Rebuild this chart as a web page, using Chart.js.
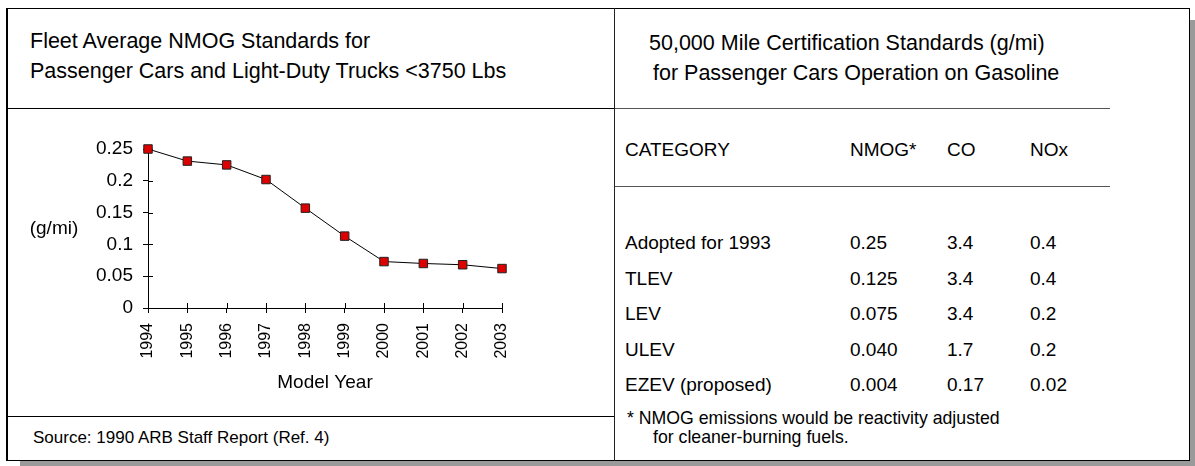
<!DOCTYPE html>
<html>
<head>
<meta charset="utf-8">
<title>Fleet Average NMOG Standards</title>
<script src="https://cdn.jsdelivr.net/npm/chart.js"></script>
<style>
    body { margin: 0; background: #fff; font-family: "Liberation Sans", Arial, sans-serif; color: #000; }
    #page { position: relative; width: 1195px; height: 466px; overflow: hidden; }
    .abs { position: absolute; white-space: pre; line-height: 1; }
    .shadow { position: absolute; background: #9a9a9a; }
    .line { position: absolute; }
</style>
</head>
<body>
<div id="page">
    <!-- shadow and frame -->
    <div class="shadow" style="left:20px; top:461px; width:1175px; height:5px;"></div>
    <div class="shadow" style="left:1190px; top:20px; width:5px; height:446px;"></div>
    <div class="line" style="left:6px; top:8px; width:1184px; height:453px; box-sizing:border-box; border:1px solid #000; border-left-width:2px; background:#fff;"></div>
    <div class="line" style="left:614px; top:8px; width:1px; height:453px; background:#222;"></div>
    <div class="line" style="left:6px; top:108px; width:608px; height:1px; background:#000;"></div>
    <div class="line" style="left:6px; top:416px; width:608px; height:1px; background:#000;"></div>
    <div class="line" style="left:615px; top:108px; width:495px; height:1px; background:#555;"></div>
    <div class="line" style="left:615px; top:186px; width:495px; height:1px; background:#555;"></div>

    <!-- titles -->
    <div class="abs" id="left-title-1" style="left:30px; top:31px; font-size:21.5px;"></div>
    <div class="abs" id="left-title-2" style="left:30px; top:61px; font-size:21.5px;"></div>
    <div class="abs" id="right-title-1" style="left:649px; top:33px; font-size:21.5px;"></div>
    <div class="abs" id="right-title-2" style="left:653px; top:63px; font-size:21.5px;"></div>

    <!-- chart -->
    <div style="position:absolute; left:8px; top:111px; width:604px; height:303px;">
        <canvas id="chart"></canvas>
    </div>

    <div class="abs" id="source" style="left:33px; top:429px; font-size:17px;"></div>

    <!-- table -->
    <div id="table"></div>
    <div class="abs" id="note-1" style="left:627px; top:410px; font-size:17.7px;"></div>
    <div class="abs" id="note-2" style="left:653px; top:429px; font-size:17.7px;"></div>
</div>

<script>
// Chart data
const modelYears = ['1994', '1995', '1996', '1997', '1998', '1999', '2000', '2001', '2002', '2003'];
const nmogFleetAverage = [0.250, 0.231, 0.225, 0.202, 0.157, 0.113, 0.073, 0.070, 0.068, 0.062];
const yTickLabels = ['0', '0.05', '0.1', '0.15', '0.2', '0.25'];
const yAxisLabel = '(g/mi)';
const xAxisLabel = 'Model Year';

// Table data
const tableHeader = ['CATEGORY', 'NMOG*', 'CO', 'NOx'];
const categories = ['Adopted for 1993', 'TLEV', 'LEV', 'ULEV', 'EZEV (proposed)'];
const nmogValues = ['0.25', '0.125', '0.075', '0.040', '0.004'];
const coValues = ['3.4', '3.4', '3.4', '1.7', '0.17'];
const noxValues = ['0.4', '0.4', '0.2', '0.2', '0.02'];

// Texts
const leftTitle = ['Fleet Average NMOG Standards for', 'Passenger Cars and Light-Duty Trucks <3750 Lbs'];
const rightTitle = ['50,000 Mile Certification Standards (g/mi)', 'for Passenger Cars Operation on Gasoline'];
const sourceText = 'Source: 1990 ARB Staff Report (Ref. 4)';
const footnote = ['* NMOG emissions would be reactivity adjusted', 'for cleaner-burning fuels.'];

const FONT = '"Liberation Sans", Arial, sans-serif';

// Fill the text blocks
function fillTexts() {
    document.getElementById('left-title-1').textContent = leftTitle[0];
    document.getElementById('left-title-2').textContent = leftTitle[1];
    document.getElementById('right-title-1').textContent = rightTitle[0];
    document.getElementById('right-title-2').textContent = rightTitle[1];
    document.getElementById('source').textContent = sourceText;
    document.getElementById('note-1').textContent = footnote[0];
    document.getElementById('note-2').textContent = footnote[1];
}

// Build the standards table out of the arrays
function buildTable() {
    const table = document.getElementById('table');
    const colX = [625, 850, 947, 1030];

    function addCell(text, x, top) {
        const div = document.createElement('div');
        div.className = 'abs';
        div.style.left = x + 'px';
        div.style.top = top + 'px';
        div.style.fontSize = '19px';
        div.textContent = text;
        table.appendChild(div);
    }

    tableHeader.forEach((h, i) => addCell(h, colX[i], 140));

    categories.forEach((cat, r) => {
        const top = 233 + r * 35.5;
        addCell(cat, colX[0], top);
        addCell(nmogValues[r], colX[1], top);
        addCell(coValues[r], colX[2], top);
        addCell(noxValues[r], colX[3], top);
    });
}

// Ticks crossing the axes and the horizontal y-axis label
const axisExtras = {
    id: 'axisExtras',
    beforeDatasetsDraw(chart) {
        const ctx = chart.ctx;
        const xs = chart.scales.x;
        const ys = chart.scales.y;
        ctx.save();
        ctx.strokeStyle = '#000';
        ctx.lineWidth = 1;
        ctx.beginPath();
        ys.ticks.forEach((t, i) => {
            const py = Math.round(ys.getPixelForTick(i)) + 0.5;
            ctx.moveTo(ys.right, py);
            ctx.lineTo(ys.right + 5, py);
        });
        xs.ticks.forEach((t, i) => {
            const px = Math.round(xs.getPixelForTick(i)) + 0.5;
            ctx.moveTo(px, xs.top);
            ctx.lineTo(px, xs.top - 5);
        });
        ctx.stroke();

        ctx.font = '19px ' + FONT;
        ctx.fillStyle = '#000';
        ctx.textAlign = 'center';
        ctx.textBaseline = 'middle';
        ctx.fillText(yAxisLabel, chart.chartArea.left - 94, (ys.top + ys.bottom) / 2);
        ctx.restore();
    }
};

function drawChart() {
    const ctx = document.getElementById('chart').getContext('2d');

    new Chart(ctx, {
        type: 'line',
        data: {
            labels: modelYears,
            datasets: [{
                data: nmogFleetAverage,
                borderColor: '#000',
                borderWidth: 1,
                tension: 0,
                pointStyle: 'rect',
                pointRadius: 6,
                pointHoverRadius: 6,
                pointBackgroundColor: '#dd0000',
                pointBorderColor: '#222',
                pointBorderWidth: 1,
                clip: false
            }]
        },
        options: {
            responsive: true,
            maintainAspectRatio: false,
            animation: false,
            events: [],
            layout: {
                padding: { top: 38, right: 110, bottom: 0, left: 0 }
            },
            plugins: {
                legend: { display: false },
                tooltip: { enabled: false }
            },
            scales: {
                x: {
                    type: 'category',
                    offset: false,
                    grid: { display: true, drawOnChartArea: false, drawTicks: true, tickLength: 5, color: '#000' },
                    border: { display: true, color: '#000', width: 1 },
                    ticks: {
                        color: '#000',
                        font: { family: FONT, size: 16 },
                        minRotation: 90,
                        maxRotation: 90,
                        padding: 10,
                        autoSkip: false
                    },
                    title: {
                        display: true,
                        text: xAxisLabel,
                        color: '#000',
                        font: { family: FONT, size: 19 },
                        padding: { top: 0, bottom: 20 }
                    },
                    afterFit: (scale) => { scale.height = 106; }
                },
                y: {
                    min: 0,
                    max: 0.25,
                    grid: { display: true, drawOnChartArea: false, drawTicks: true, tickLength: 5, color: '#000' },
                    border: { display: true, color: '#000', width: 1 },
                    ticks: {
                        stepSize: 0.05,
                        color: '#000',
                        font: { family: FONT, size: 19 },
                        padding: 10,
                        callback: (value, index) => yTickLabels[index]
                    },
                    afterFit: (scale) => { scale.width = 140; }
                }
            }
        },
        plugins: [axisExtras]
    });
}

window.onload = () => {
    fillTexts();
    buildTable();
    drawChart();
};
</script>
</body>
</html>
